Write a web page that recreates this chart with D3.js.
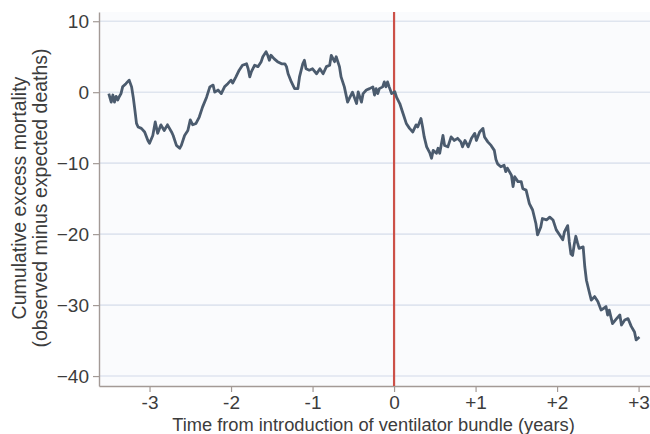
<!DOCTYPE html>
<html><head><meta charset="utf-8">
<script src="https://cdn.jsdelivr.net/npm/d3@7"></script>
<style>
html,body{margin:0;padding:0;background:#fff;}
svg{display:block;font-family:"Liberation Sans",Arial,sans-serif;}
</style></head>
<body><svg id="chart" width="650" height="434"></svg>
<script>
// Time from introduction (years)
const times = [-3.50,-3.47,-3.45,-3.43,-3.41,-3.39,-3.37,-3.35,-3.33,-3.29,-3.25,-3.22,-3.20,-3.18,-3.16,-3.14,-3.10,-3.06,-3.02,-3.00,
-2.96,-2.93,-2.90,-2.86,-2.82,-2.78,-2.73,-2.71,-2.67,-2.63,-2.61,-2.57,-2.53,-2.50,-2.47,-2.43,-2.39,-2.35,-2.30,-2.26,-2.22,-2.20,-2.16,-2.12,-2.08,-2.04,-2.00,
-1.98,-1.94,-1.90,-1.86,-1.81,-1.79,-1.77,-1.75,-1.71,-1.67,-1.63,-1.61,-1.57,-1.55,-1.53,-1.51,-1.47,-1.43,-1.38,-1.34,-1.32,-1.30,-1.26,-1.22,-1.18,-1.16,-1.12,-1.10,-1.08,-1.04,-1.00,
-0.95,-0.91,-0.87,-0.83,-0.79,-0.77,-0.73,-0.71,-0.67,-0.65,-0.61,-0.57,-0.55,-0.51,-0.46,-0.44,-0.40,-0.38,-0.34,-0.30,-0.26,-0.24,-0.22,-0.20,-0.18,-0.14,-0.12,-0.10,-0.08,-0.06,-0.03,
0.01,0.03,0.07,0.11,0.15,0.19,0.23,0.27,0.29,0.33,0.35,0.37,0.40,0.44,0.46,0.48,0.52,0.54,0.56,0.60,0.62,0.66,0.70,0.74,0.78,0.82,0.84,0.87,0.91,0.95,0.99,
1.01,1.05,1.09,1.11,1.15,1.19,1.23,1.25,1.27,1.31,1.35,1.37,1.39,1.44,1.46,1.48,1.52,1.56,1.58,1.62,1.66,1.70,1.74,1.76,1.80,1.82,1.87,1.91,1.95,1.99,
2.03,2.07,2.09,2.13,2.15,2.17,2.19,2.21,2.23,2.25,2.27,2.32,2.34,2.36,2.40,2.42,2.46,2.50,2.54,2.60,2.62,2.64,2.68,2.73,2.77,2.79,2.83,2.87,2.91,2.95,2.97,3.01];
// Cumulative excess mortality (observed minus expected deaths)
const excess = [-0.2,-1.4,-0.4,-1.4,-0.6,-1.1,-0.6,-0.2,0.75,1.2,1.7,0.75,-0.7,-2.5,-4.4,-4.9,-5.1,-5.6,-6.8,-7.2,
-6.1,-4.2,-5.8,-4.6,-5.4,-4.6,-5.6,-6.1,-7.5,-7.9,-7.5,-6.1,-5.4,-3.9,-4.6,-4.4,-3.5,-2.1,-0.7,0.75,1.0,0,0.3,-0.2,0.75,1.2,1.7,
1.3,2.15,3.1,3.8,4.0,3.3,2.15,2.9,3.8,3.6,4.3,5.0,5.7,5.2,4.5,5.2,4.7,4.3,4.0,4.0,3.6,2.6,1.45,0.5,0.5,2.15,4.0,4.5,3.3,3.1,3.3,
2.6,3.3,2.6,3.6,3.8,5.2,4.3,5.0,3.6,2.15,0.75,-1.4,-0.9,0,-1.6,0.05,-1.4,-0.2,0.3,0.5,0.75,-0.4,0.5,-0.2,0.5,0.75,1.45,0.75,1.45,0.75,-0.2,
0.05,-0.7,-1.6,-3.0,-4.4,-5.1,-5.6,-4.6,-4.9,-3.7,-4.9,-6.3,-7.7,-8.6,-9.3,-8.2,-8.6,-7.9,-8.6,-6.1,-7.5,-7.7,-6.3,-6.8,-6.5,-7.0,-7.7,-6.8,-7.7,-6.5,-5.8,
-6.8,-5.6,-5.1,-6.3,-7.0,-7.5,-8.2,-9.5,-10.1,-10.5,-10.3,-11.2,-10.7,-11.7,-13.3,-11.9,-12.6,-12.6,-13.6,-13.8,-15.7,-16.6,-18.5,-20.1,-19.0,-17.8,-18.0,-17.6,-18.0,-19.4,
-20.1,-20.8,-19.7,-18.8,-21.1,-22.8,-23.0,-21.5,-20.3,-21.2,-22.0,-21.8,-24.6,-26.5,-28.4,-29.3,-28.8,-29.5,-30.7,-30.2,-31.4,-30.7,-32.6,-31.9,-31.4,-32.8,-32.1,-31.9,-33.0,-33.8,-34.9,-34.5];

const xTickValues = [-3,-2,-1,0,1,2,3];
const xTickLabels = ["-3","-2","-1","0","+1","+2","+3"];
const yTickValues = [10,0,-10,-20,-30,-40];
const interventionTime = [0];
const xTitle = "Time from introduction of ventilator bundle (years)";
const yTitleLines = ["Cumulative excess mortality","(observed minus expected deaths)"];

const svg = d3.select("#chart");
const L = 99, R = 650, T = 12, B = 386;
const x = d3.scaleLinear().domain([-3.62, 3.14]).range([L, R]);
const y = d3.scaleLinear().domain([-41.4, 11.3]).range([B, T]);

svg.append("rect").attr("x", L).attr("y", T).attr("width", R - L).attr("height", B - T).attr("fill", "#fafbfd");

// gridlines
svg.append("g").selectAll("line").data(yTickValues).join("line")
  .attr("x1", L + 1).attr("x2", R).attr("y1", d => y(d)).attr("y2", d => y(d))
  .attr("stroke", "#dfe5ef").attr("stroke-width", 1.6);

const axisColor = "#a39a96";
const textColor = "#3c3c3c";

const yAxis = svg.append("g").attr("transform", `translate(${L},0)`)
  .call(d3.axisLeft(y).tickValues(yTickValues).tickSize(6).tickSizeOuter(0).tickPadding(4).tickFormat(d3.format("d")));
const xAxis = svg.append("g").attr("transform", `translate(0,${B})`)
  .call(d3.axisBottom(x).tickValues(xTickValues).tickSize(6).tickSizeOuter(0).tickPadding(4)
    .tickFormat((d, i) => xTickLabels[i]));
[yAxis, xAxis].forEach(g => {
  g.select(".domain").attr("stroke", axisColor).attr("stroke-width", 1.4);
  g.selectAll(".tick line").attr("stroke", axisColor).attr("stroke-width", 1.2);
  g.selectAll(".tick text").attr("fill", textColor).attr("font-size", 19)
    .attr("font-family", "'Liberation Sans', Arial, sans-serif");
});

// intervention line
svg.append("g").selectAll("line").data(interventionTime).join("line")
  .attr("x1", d => x(d)).attr("x2", d => x(d)).attr("y1", T).attr("y2", B)
  .attr("stroke", "#cc5048").attr("stroke-width", 2.2);

// series
const pts = times.map((t, i) => [t, excess[i]]);
svg.append("path").datum(pts)
  .attr("d", d3.line().x(d => x(d[0])).y(d => y(d[1])))
  .attr("fill", "none").attr("stroke", "#4b5b6e").attr("stroke-width", 2.8)
  .attr("stroke-linejoin", "round");

// titles
svg.append("text").attr("x", (L + R) / 2 - 1).attr("y", 431).attr("text-anchor", "middle")
  .attr("font-size", 18.3).attr("fill", textColor).text(xTitle);
const yt = svg.append("text").attr("transform", `translate(0,198) rotate(-90)`)
  .attr("text-anchor", "middle").attr("font-size", 19.5).attr("fill", textColor);
yt.selectAll("tspan").data(yTitleLines).join("tspan")
  .attr("x", 0).attr("y", (d, i) => 26 + i * 20.5).text(d => d);
</script></body></html>
